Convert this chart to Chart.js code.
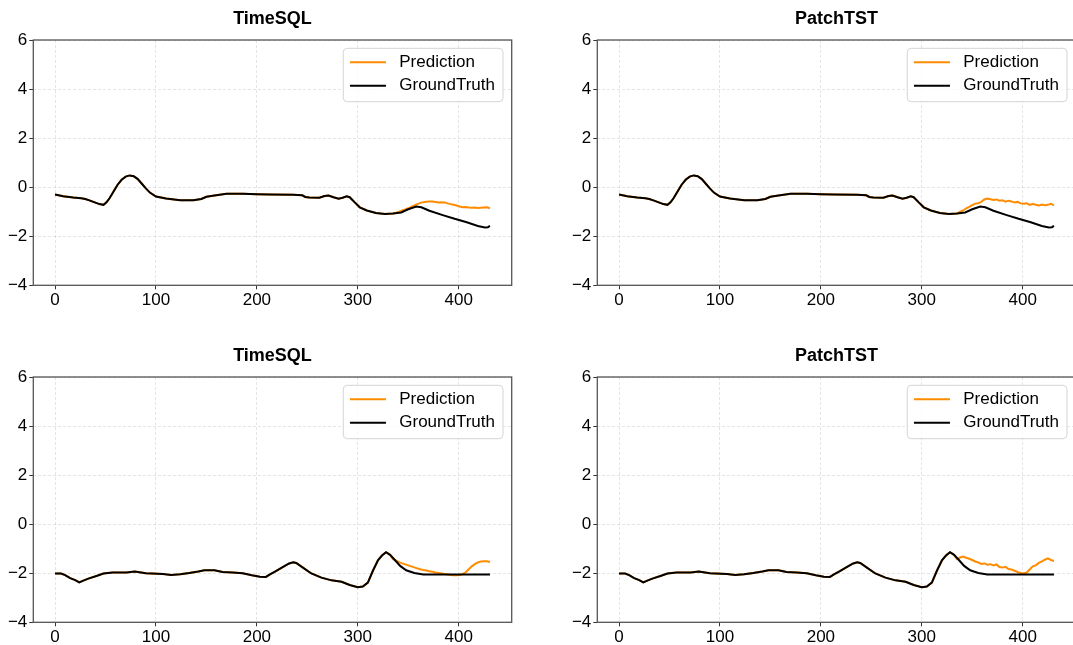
<!DOCTYPE html>
<html>
<head>
<meta charset="utf-8">
<script src="https://cdn.jsdelivr.net/npm/chart.js@4.4.1/dist/chart.umd.min.js"></script>
<style>
  html, body { margin: 0; padding: 0; width: 1073px; height: 645px; overflow: hidden; background: #fff; }
  .panel { position: absolute; width: 540px; height: 320px; }
</style>
</head>
<body>
<div class="panel" style="left:0px;top:0px"><canvas id="c1" width="540" height="320"></canvas></div>
<div class="panel" style="left:564px;top:0px"><canvas id="c2" width="540" height="320"></canvas></div>
<div class="panel" style="left:0px;top:336.7px"><canvas id="c3" width="540" height="320"></canvas></div>
<div class="panel" style="left:564px;top:336.7px"><canvas id="c4" width="540" height="320"></canvas></div>
<script>
const xTicks = [0, 100, 200, 300, 400];
const forecastStart = 335;

const topGtX = [0, 8, 18, 26, 30, 34, 40, 44, 48, 51, 54, 58, 62, 66, 70, 74, 78, 82, 86, 90, 94, 100, 110, 124, 137, 145, 150, 158, 170, 186, 200, 213, 236, 245, 248, 252, 262, 267, 271, 276, 281, 285, 289, 292, 297, 302, 309, 318, 327, 335, 343, 350, 358, 363, 371, 385, 396, 408, 419, 426, 429, 431];
const topGtY = [-0.30, -0.37, -0.42, -0.45, -0.48, -0.54, -0.63, -0.69, -0.72, -0.62, -0.45, -0.18, 0.10, 0.30, 0.43, 0.48, 0.45, 0.33, 0.14, -0.05, -0.22, -0.38, -0.46, -0.53, -0.53, -0.48, -0.39, -0.34, -0.27, -0.27, -0.29, -0.30, -0.31, -0.33, -0.40, -0.42, -0.43, -0.36, -0.34, -0.41, -0.47, -0.43, -0.37, -0.41, -0.62, -0.82, -0.95, -1.05, -1.09, -1.07, -1.03, -0.90, -0.79, -0.82, -0.96, -1.15, -1.29, -1.43, -1.58, -1.64, -1.63, -1.58];

// ground truth, bottom row
const bottomGtX = [0, 6, 10, 15, 20, 24, 28, 33, 41, 48, 57, 71, 79, 90, 107, 115, 124, 133, 142, 148, 158, 166, 176, 186, 195, 203, 209, 213, 218, 226, 232, 236, 239, 246, 254, 264, 274, 284, 292, 300, 305, 310, 315, 320, 324, 328, 332, 337, 342, 348, 356, 365, 431];
const bottomGtY = [-2.01, -2.01, -2.08, -2.20, -2.28, -2.37, -2.30, -2.22, -2.11, -2.01, -1.97, -1.97, -1.93, -2.00, -2.03, -2.07, -2.04, -1.99, -1.93, -1.88, -1.88, -1.95, -1.97, -2.00, -2.08, -2.14, -2.15, -2.05, -1.93, -1.74, -1.60, -1.55, -1.58, -1.78, -2.01, -2.18, -2.29, -2.35, -2.48, -2.57, -2.54, -2.38, -1.90, -1.47, -1.28, -1.14, -1.25, -1.47, -1.70, -1.88, -1.99, -2.05, -2.05];

// forecast part of the predictions
const forecastX = [335, 338, 341, 344, 347, 350, 353, 356, 359, 362, 365, 368, 371, 374, 377, 380, 383, 386, 389, 392, 395, 398, 401, 404, 407, 410, 413, 416, 419, 422, 425, 428, 431];
const timesqlTopPred = [-1.07, -1.04, -1.00, -0.95, -0.91, -0.86, -0.80, -0.74, -0.69, -0.64, -0.61, -0.59, -0.58, -0.58, -0.60, -0.62, -0.61, -0.62, -0.66, -0.69, -0.72, -0.75, -0.79, -0.82, -0.81, -0.83, -0.84, -0.83, -0.85, -0.84, -0.83, -0.82, -0.86];
const patchtstTopPred = [-1.07, -1.00, -0.95, -0.86, -0.80, -0.73, -0.67, -0.66, -0.60, -0.50, -0.46, -0.49, -0.52, -0.50, -0.55, -0.53, -0.59, -0.55, -0.58, -0.62, -0.60, -0.66, -0.68, -0.66, -0.72, -0.69, -0.72, -0.75, -0.71, -0.74, -0.72, -0.68, -0.74];
const timesqlBottomPred = [-1.43, -1.49, -1.55, -1.60, -1.64, -1.68, -1.72, -1.76, -1.80, -1.84, -1.87, -1.89, -1.92, -1.94, -1.97, -1.99, -2.01, -2.03, -2.05, -2.07, -2.08, -2.08, -2.07, -2.03, -1.96, -1.84, -1.72, -1.63, -1.56, -1.52, -1.51, -1.51, -1.54];
const patchtstBottomPred = [-1.43, -1.36, -1.32, -1.37, -1.41, -1.46, -1.52, -1.56, -1.62, -1.60, -1.65, -1.63, -1.68, -1.64, -1.75, -1.77, -1.74, -1.83, -1.85, -1.90, -1.95, -1.99, -2.00, -1.97, -1.85, -1.72, -1.68, -1.58, -1.52, -1.45, -1.39, -1.46, -1.50];

const FONT = '"Liberation Sans", Arial, sans-serif';
Chart.defaults.font.family = FONT;
Chart.defaults.color = '#000';

const toPoints = (xs, ys) => xs.map((x, i) => ({ x: x, y: ys[i] }));

// box round the plot + matplotlib-like legend
const frameLegend = {
  id: 'frameLegend',
  afterDraw(chart) {
    const ctx = chart.ctx, a = chart.chartArea;
    ctx.save();
    ctx.strokeStyle = '#555';
    ctx.lineWidth = 1.3;
    ctx.strokeRect(a.left, a.top, a.right - a.left, a.bottom - a.top);

    const items = chart.data.datasets.map(d => ({ text: d.label, color: d.borderColor }));
    ctx.font = '17px ' + FONT;
    const tw = Math.max(...items.map(it => ctx.measureText(it.text).width));
    const w = 56 + tw + 8, h = 53.4;
    const x = a.right - 8.7 - w, y = a.top + 8.3;
    ctx.beginPath();
    ctx.roundRect(x, y, w, h, 4);
    ctx.fillStyle = 'rgba(255,255,255,0.8)';
    ctx.fill();
    ctx.strokeStyle = '#d4d4d4';
    ctx.lineWidth = 1;
    ctx.stroke();
    items.forEach((it, i) => {
      const cy = y + 14 + i * 23.4;
      ctx.strokeStyle = it.color;
      ctx.lineWidth = 2;
      ctx.beginPath();
      ctx.moveTo(x + 6.7, cy);
      ctx.lineTo(x + 42.7, cy);
      ctx.stroke();
      ctx.fillStyle = '#000';
      ctx.textBaseline = 'middle';
      ctx.textAlign = 'left';
      ctx.fillText(it.text, x + 56, cy);
    });
    ctx.restore();
  }
};

function makeChart(id, title, gtX, gtY, predY) {
  const gt = toPoints(gtX, gtY);
  const pred = gt.filter(p => p.x < forecastStart).concat(toPoints(forecastX, predY));
  new Chart(document.getElementById(id), {
    type: 'line',
    data: {
      datasets: [
        { label: 'Prediction', data: pred, borderColor: '#FF8C00', borderWidth: 2, pointRadius: 0, order: 1 },
        { label: 'GroundTruth', data: gt, borderColor: '#000000', borderWidth: 2, pointRadius: 0, order: 0 }
      ]
    },
    options: {
      responsive: false,
      animation: false,
      devicePixelRatio: 1,
      events: [],
      layout: { padding: { right: 28.3, left: 0, top: 0, bottom: 0 } },
      plugins: {
        legend: { display: false },
        tooltip: { enabled: false },
        title: {
          display: true,
          text: title,
          fullSize: false,
          font: { size: 18, weight: 'bold', lineHeight: 1.2 },
          color: '#000',
          padding: { top: 8.7, bottom: 9.7 }
        }
      },
      scales: {
        x: {
          type: 'linear',
          min: -21.55,
          max: 452.55,
          afterBuildTicks: s => { s.ticks = xTicks.map(v => ({ value: v })); },
          afterFit: s => { s.height = 34.7; },
          grid: { color: 'rgba(0,0,0,0.13)', lineWidth: 0.8, tickColor: '#333', tickLength: 4, tickWidth: 1 },
          border: { display: false, dash: [3, 2] },
          ticks: { font: { size: 17 }, color: '#000', padding: 1, maxRotation: 0 }
        },
        y: {
          min: -4,
          max: 6,
          afterFit: s => { s.width = 33.3; },
          grid: { color: 'rgba(0,0,0,0.13)', lineWidth: 0.8, tickColor: '#333', tickLength: 4, tickWidth: 1 },
          border: { display: false, dash: [3, 2] },
          ticks: {
            stepSize: 2,
            font: { size: 17 },
            color: '#000',
            padding: 2,
            callback: v => String(v).replace('-', '\u2212')
          }
        }
      }
    },
    plugins: [frameLegend]
  });
}

makeChart('c1', 'TimeSQL', topGtX, topGtY, timesqlTopPred);
makeChart('c2', 'PatchTST', topGtX, topGtY, patchtstTopPred);
makeChart('c3', 'TimeSQL', bottomGtX, bottomGtY, timesqlBottomPred);
makeChart('c4', 'PatchTST', bottomGtX, bottomGtY, patchtstBottomPred);
</script>
</body>
</html>
